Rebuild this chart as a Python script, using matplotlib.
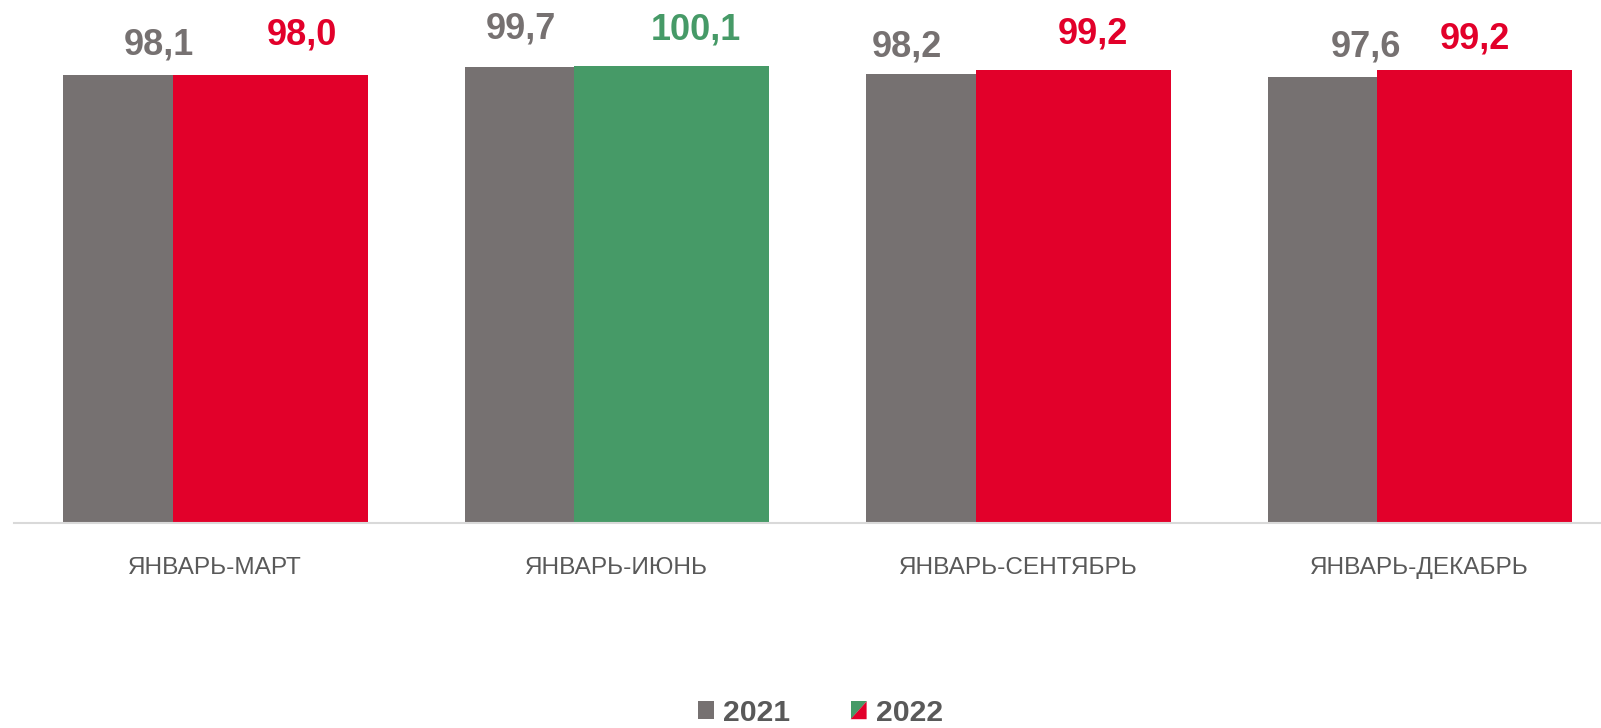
import matplotlib
matplotlib.use("Agg")
import matplotlib.pyplot as plt
from matplotlib.patches import Polygon, Rectangle
from matplotlib.legend_handler import HandlerBase
import numpy as np

# ---- data ----
categories = ["ЯНВАРЬ-МАРТ", "ЯНВАРЬ-ИЮНЬ", "ЯНВАРЬ-СЕНТЯБРЬ", "ЯНВАРЬ-ДЕКАБРЬ"]
values_2021 = [98.1, 99.7, 98.2, 97.6]
values_2022 = [98.0, 100.1, 99.2, 99.2]
labels_2021 = ["98,1", "99,7", "98,2", "97,6"]
labels_2022 = ["98,0", "100,1", "99,2", "99,2"]
series_names = ["2021", "2022"]

# ---- style ----
GRAY = "#767171"
RED = "#E2002A"
GREEN = "#469A67"
TEXT = "#595959"
colors_2022 = [RED, GREEN, RED, RED]
# manual label offsets (pixels) as in the reference
dx_2021 = [-2.5, -42, -57, 0]
dy_2021 = [20.7, 28.4, 18.2, 21]
dx_2022 = [31.5, 24.5, 19.5, 0]
dy_2022 = [31, 26.5, 25.7, 20.7]

W, H = 1601, 728
fig = plt.figure(figsize=(W / 100, H / 100), dpi=100)
plt.rcParams['font.family'] = ['Liberation Sans', 'DejaVu Sans']

left_px = 14.25
cat_px = 401.5
ax_w = 4 * cat_px
bottom_px = 728 - 523.3
ax_h = 503
ax = fig.add_axes([left_px / W, bottom_px / H, ax_w / W, ax_h / H])
ax.set_xlim(-0.5, 3.5)
ax.set_ylim(0, 110)

x = np.arange(len(categories))
bw = 195 / cat_px
off_g = -0.1345
off_c = 0.137

ax.bar(x + off_g, values_2021, width=bw, color=GRAY, zorder=2)
ax.bar(x + off_c, values_2022, width=bw, color=colors_2022, zorder=3)

for i in range(len(categories)):
    ax.annotate(labels_2021[i], xy=(x[i] + off_g, values_2021[i]),
                xytext=(dx_2021[i], dy_2021[i]), textcoords='offset pixels',
                ha='center', va='baseline', fontsize=26, fontweight='bold',
                color=GRAY, zorder=5)
    ax.annotate(labels_2022[i], xy=(x[i] + off_c, values_2022[i]),
                xytext=(dx_2022[i], dy_2022[i]), textcoords='offset pixels',
                ha='center', va='baseline', fontsize=26, fontweight='bold',
                color=colors_2022[i], zorder=5)

for s in ['top', 'right', 'left']:
    ax.spines[s].set_visible(False)
ax.spines['bottom'].set_color('#D9D9D9')
ax.spines['bottom'].set_linewidth(1.5)
ax.spines['bottom'].set_zorder(4)
ax.set_yticks([])
ax.set_xticks(x)
ax.set_xticklabels(categories, fontsize=17.6, color=TEXT)
ax.tick_params(axis='x', length=0, pad=24.5)


class SplitHandler(HandlerBase):
    def create_artists(self, legend, orig_handle, xdescent, ydescent,
                       width, height, fontsize, trans):
        x0, y0 = -xdescent, -ydescent
        t1 = Polygon([[x0, y0], [x0, y0 + height], [x0 + width, y0 + height]],
                     closed=True, facecolor=GREEN, edgecolor='none', transform=trans)
        t2 = Polygon([[x0, y0], [x0 + width, y0 + height], [x0 + width, y0]],
                     closed=True, facecolor=RED, edgecolor='none', transform=trans)
        return [t1, t2]


class SquareHandler(HandlerBase):
    def create_artists(self, legend, orig_handle, xdescent, ydescent,
                       width, height, fontsize, trans):
        r = Rectangle((-xdescent, -ydescent), width, height, facecolor=GRAY,
                      edgecolor='none', transform=trans)
        return [r]


h1 = Rectangle((0, 0), 1, 1)
h2 = Polygon([[0, 0], [1, 1], [1, 0]])
leg = fig.legend([h1, h2], series_names, loc='center',
                 bbox_to_anchor=(820.5 / W, (728 - 713) / H), ncol=2,
                 frameon=False, handler_map={h1: SquareHandler(), h2: SplitHandler()},
                 prop={'size': 21.7, 'weight': 'bold'}, labelcolor=TEXT,
                 handlelength=0.53, handleheight=0.53, handletextpad=0.3,
                 columnspacing=2.0, borderpad=0, borderaxespad=0)

fig.savefig("out.png", dpi=100)
